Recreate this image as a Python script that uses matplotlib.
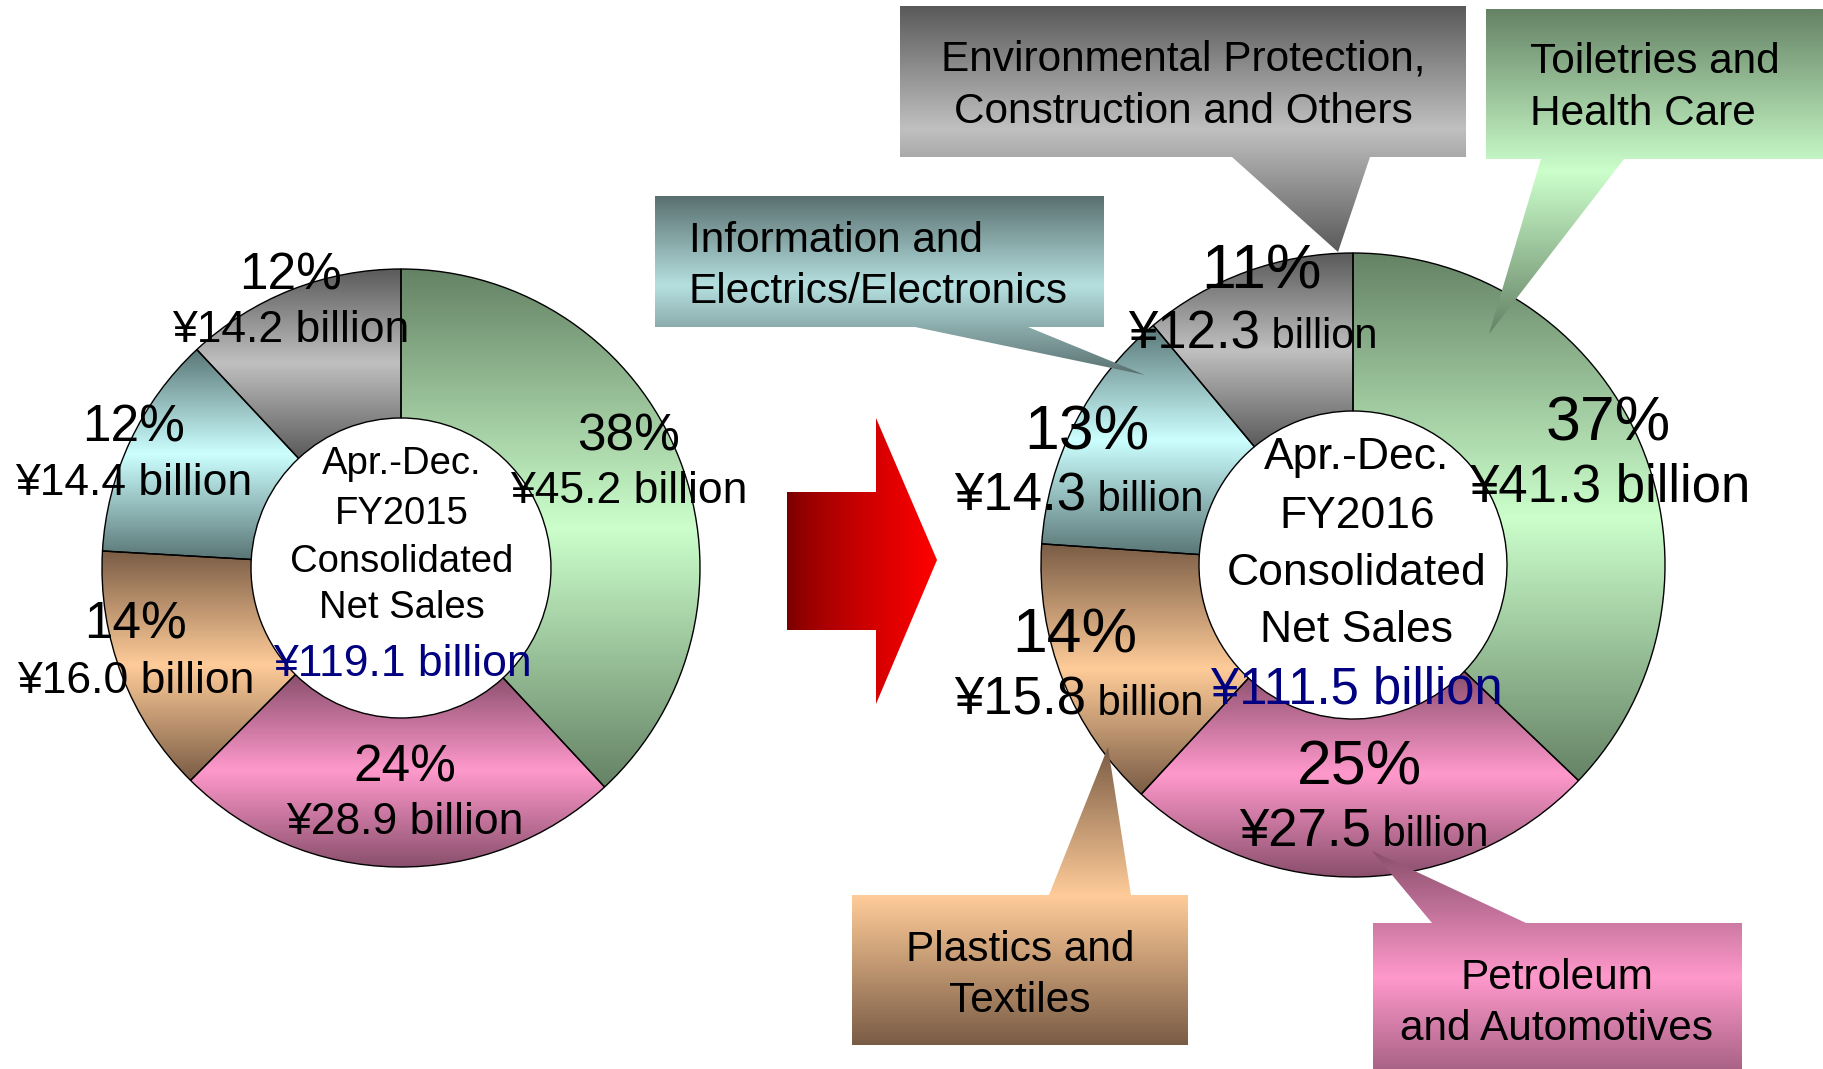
import numpy as np
import matplotlib
matplotlib.use("Agg")
import matplotlib.pyplot as plt
from matplotlib.patches import Polygon
from matplotlib.offsetbox import TextArea, HPacker, AnnotationBbox
from matplotlib.colors import to_rgb

plt.rcParams['font.family'] = ['Liberation Sans', 'DejaVu Sans']

# ---- data -------------------------------------------------------------
segments = [
    "Toiletries and\nHealth Care",
    "Petroleum\nand Automotives",
    "Plastics and\nTextiles",
    "Information and\nElectrics/Electronics",
    "Environmental Protection,\nConstruction and Others",
]
sales_2015 = [45.2, 28.9, 16.0, 14.4, 14.2]      # ¥ billion
share_2015 = [38, 24, 14, 12, 12]                # %
sales_2016 = [41.3, 27.5, 15.8, 14.3, 12.3]      # ¥ billion
share_2016 = [37, 25, 14, 13, 11]                # %
total_2015 = 119.1
total_2016 = 111.5
center_2015 = ["Apr.-Dec.", "FY2015", "Consolidated", "Net Sales"]
center_2016 = ["Apr.-Dec.", "FY2016", "Consolidated", "Net Sales"]

# (dark, light) gradient colours per segment
seg_colors = [
    ("#658265", "#ccffcc"),
    ("#8a4f6c", "#ff99cc"),
    ("#7a5c45", "#ffcc99"),
    ("#5a7676", "#ccffff"),
    ("#5a5a5a", "#c0c0c0"),
]
# callout boxes use the same palette, the IT box a touch greyer
callout_colors = [
    seg_colors[0],
    seg_colors[1],
    seg_colors[2],
    ("#5a7070", "#b6e0e0"),
    seg_colors[4],
]

# ---- canvas in pixel units ---------------------------------------------
W, H = 1823, 1069
DPI = 100
PX = DPI / 72.0
fig = plt.figure(figsize=(W / DPI, H / DPI), dpi=DPI)
ax = fig.add_axes([0, 0, 1, 1])


def Y(p):
    return H - p


def mirrored_fill(patch, dark, light, z):
    """Fill a patch with a vertical dark-light-dark gradient."""
    ext = patch.get_path().get_extents()
    t = np.linspace(0, 1, 256)
    s = 1 - np.abs(2 * t - 1)
    d = np.array(to_rgb(dark))
    l = np.array(to_rgb(light))
    rgb = d[None, :] + (l - d)[None, :] * s[:, None]
    im = ax.imshow(rgb[:, None, :], extent=(ext.x0, ext.x1, ext.y0, ext.y1),
                   origin='lower', aspect='auto', interpolation='bilinear',
                   zorder=z)
    im.set_clip_path(patch)


def donut(values, cx, cy, R, r):
    wedges, _ = ax.pie(values, radius=R, center=(cx, Y(cy)), startangle=90,
                       counterclock=False, normalize=True,
                       wedgeprops=dict(width=R - r, edgecolor='black',
                                       linewidth=1.0, facecolor='none',
                                       zorder=2))
    for w, (dk, lt) in zip(wedges, seg_colors):
        mirrored_fill(w, dk, lt, 1)
    return wedges


def label(x, y, s, size, color='black', ha='center'):
    ax.text(x, Y(y + 0.105 * size * PX), s, fontsize=size, ha=ha,
            va='center', color=color, zorder=10)


def mixed_label(x, y, big, small, bsize, ssize):
    a = TextArea(big, textprops=dict(fontsize=bsize))
    b = TextArea(small, textprops=dict(fontsize=ssize))
    pack = HPacker(children=[a, b], align='baseline', pad=0, sep=0)
    ab = AnnotationBbox(pack, (x, Y(y + 0.105 * bsize * PX)), xycoords='data',
                        box_alignment=(0.5, 0.5), frameon=False, pad=0,
                        zorder=10)
    ax.add_artist(ab)


def callout(box, base, tip, dark, light):
    x0, y0, x1, y1 = box
    bx0, bx1 = base
    tx, ty = tip
    if ty > y1:
        pts = [(x0, y0), (x1, y0), (x1, y1), (bx1, y1), (tx, ty), (bx0, y1), (x0, y1)]
    else:
        pts = [(x0, y0), (bx0, y0), (tx, ty), (bx1, y0), (x1, y0), (x1, y1), (x0, y1)]
    poly = Polygon([(x, Y(y)) for x, y in pts], closed=True,
                   facecolor='none', edgecolor='none', zorder=3.1)
    ax.add_patch(poly)
    mirrored_fill(poly, dark, light, 3)


# ---- donuts -------------------------------------------------------------
donut(sales_2015, 401, 568, 299, 150)
donut(sales_2016, 1353, 565, 312, 154)

# ---- callouts (2016 donut) ------------------------------------------------
callout((900, 6, 1466, 157), (1232, 1370), (1338, 252), *callout_colors[4])
callout((1486, 9, 1840, 159), (1541, 1624), (1489, 334), *callout_colors[0])
callout((655, 196, 1104, 327), (915, 1028), (1145, 375), *callout_colors[3])
callout((852, 895, 1188, 1045), (1049, 1131), (1108, 747), *callout_colors[2])
callout((1373, 923, 1742, 1103), (1432, 1526), (1372, 851), *callout_colors[1])

env_l = segments[4].split("\n")
label(1183, 55.5, env_l[0], 30.5)
label(1183, 108, env_l[1], 30.5)
toi_l = segments[0].split("\n")
label(1530, 58, toi_l[0], 30.5, ha='left')
label(1530, 110, toi_l[1], 30.5, ha='left')
inf_l = segments[3].split("\n")
label(689, 236.5, inf_l[0], 30.5, ha='left')
label(689, 288, inf_l[1], 30.5, ha='left')
pla_l = segments[2].split("\n")
label(1020, 946, pla_l[0], 30.5)
label(1020, 997, pla_l[1], 30.5)
pet_l = segments[1].split("\n")
label(1557, 974, pet_l[0], 30.5)
label(1557, 1025, pet_l[1], 30.5)

# ---- arrow ---------------------------------------------------------------
arrow_pts = [(787, 492), (876, 492), (876, 418), (937, 560),
             (876, 704), (876, 630), (787, 630)]
arrow = Polygon([(x, Y(y)) for x, y in arrow_pts], closed=True,
                facecolor='none', edgecolor='none', zorder=3.1)
ax.add_patch(arrow)
xs = np.linspace(787, 937, 300)
f = ((xs - 787) / (937 - 787)) ** 0.7
c0 = np.array(to_rgb("#760000"))
c1 = np.array(to_rgb("#ff0000"))
row = c0[None, :] + (c1 - c0)[None, :] * f[:, None]
im = ax.imshow(row[None, :, :], extent=(787, 937, Y(704), Y(418)),
               origin='lower', aspect='auto', interpolation='bilinear', zorder=3)
im.set_clip_path(arrow)

# ---- 2015 labels -----------------------------------------------------------
pos_2015 = [(629, 431.5, 487), (405, 763, 818), (136, 620, 677),
            (134, 423, 479), (291, 270.5, 326)]
for (x, yp, ya), v, p in zip(pos_2015, sales_2015, share_2015):
    label(x, yp, f"{p}%", 37)
    label(x, ya, f"¥{v:.1f} billion", 32)

for txt, yy in zip(center_2015, [460, 509.5, 557.6, 604]):
    label(402, yy, txt, 27.5)
label(402, 660, f"¥{total_2015:.1f} billion", 32, color='#000080')

# ---- 2016 labels -----------------------------------------------------------
pos_2016 = [((1608, 417), (1610, 482)), ((1360, 761.5), (1364, 826.5)),
            ((1075, 629), (1079, 695)), ((1087, 426), (1079, 491)),
            ((1261, 265), (1253, 328.5))]
for i, ((pp, ap), v, p) in enumerate(zip(pos_2016, sales_2016, share_2016)):
    label(pp[0], pp[1], f"{p}%", 45)
    if i == 0:
        label(ap[0], ap[1], f"¥{v:.1f} billion", 38)
    else:
        mixed_label(ap[0], ap[1], f"¥{v:.1f}", " billion", 38, 30)

for txt, yy in zip(center_2016, [453, 512, 569, 626]):
    label(1357, yy, txt, 32)
label(1357, 684.5, f"¥{total_2016:.1f} billion", 36.5, color='#000080')

ax.set_xlim(0, W)
ax.set_ylim(0, H)
ax.set_aspect('auto')
ax.axis('off')
fig.savefig("out.png", dpi=DPI, facecolor='white')
